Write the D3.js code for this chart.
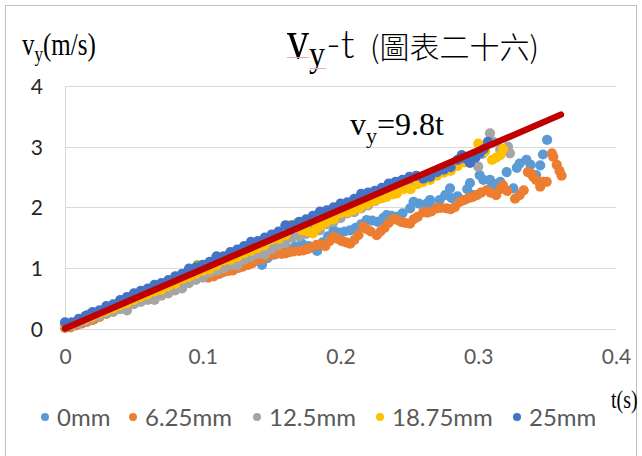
<!DOCTYPE html>
<html><head><meta charset="utf-8">
<script src="https://cdn.jsdelivr.net/npm/d3@7"></script>
<style>body{margin:0;background:#fff}svg{display:block}</style>
</head><body><svg id="c" width="642" height="456"></svg>
<script>
// ---- data ----
const seriesNames = ["0mm", "6.25mm", "12.5mm", "18.75mm", "25mm"];
const xTickValues = [0, 0.1, 0.2, 0.3, 0.4];
const yTickValues = [0, 1, 2, 3, 4];
const fitSlope = 9.8;
const fitRange = [0, 0.36];

const s0mm = [[0.000,0.05],[0.005,0.07],[0.010,0.10],[0.015,0.15],[0.020,0.18],[0.025,0.23],[0.030,0.28],[0.035,0.33],[0.040,0.36],[0.045,0.42],[0.050,0.46],[0.055,0.52],[0.060,0.56],[0.065,0.60],[0.070,0.66],[0.075,0.70],[0.080,0.74],[0.085,0.80],[0.090,0.84],[0.095,0.90],[0.100,0.93],[0.105,0.98],[0.110,1.04],[0.115,1.07],[0.120,1.11],[0.125,1.14],[0.130,1.18],[0.135,1.20],[0.140,1.12],[0.143,1.05],[0.147,1.16],[0.152,1.22],[0.157,1.26],[0.162,1.30],[0.167,1.35],[0.172,1.40],[0.177,1.36],[0.183,1.28],[0.187,1.42],[0.191,1.52],[0.195,1.62],[0.199,1.58],[0.203,1.60],[0.207,1.62],[0.211,1.66],[0.215,1.72],[0.219,1.79],[0.223,1.78],[0.227,1.76],[0.231,1.82],[0.2335,1.87],[0.237,1.86],[0.241,1.84],[0.245,1.90],[0.2505,1.98],[0.253,2.09],[0.257,2.06],[0.2626,2.06],[0.265,2.12],[0.267,2.00],[0.272,2.12],[0.276,2.20],[0.2795,2.31],[0.2807,2.15],[0.285,2.18],[0.289,2.12],[0.292,2.30],[0.294,2.40],[0.2964,2.20],[0.301,2.53],[0.3037,2.45],[0.3085,2.45],[0.3097,2.34],[0.313,2.38],[0.316,2.42],[0.3206,2.58],[0.3255,2.31],[0.328,2.65],[0.330,2.72],[0.335,2.78],[0.338,2.70],[0.342,2.53],[0.345,2.69],[0.347,2.87],[0.350,3.11]];

const s625mm = [[0.000,0.01],[0.004,0.02],[0.008,0.05],[0.012,0.08],[0.016,0.11],[0.020,0.14],[0.025,0.19],[0.030,0.24],[0.035,0.28],[0.040,0.33],[0.045,0.37],[0.050,0.42],[0.055,0.46],[0.060,0.50],[0.065,0.55],[0.070,0.59],[0.075,0.63],[0.080,0.68],[0.085,0.74],[0.090,0.78],[0.095,0.82],[0.100,0.85],[0.104,0.84],[0.108,0.86],[0.112,0.90],[0.115,0.93],[0.119,0.95],[0.122,0.96],[0.126,1.00],[0.129,1.02],[0.133,1.05],[0.136,1.08],[0.139,1.13],[0.143,1.15],[0.146,1.18],[0.150,1.22],[0.154,1.24],[0.157,1.23],[0.160,1.24],[0.163,1.26],[0.166,1.27],[0.170,1.28],[0.173,1.29],[0.176,1.31],[0.178,1.33],[0.1827,1.38],[0.186,1.38],[0.189,1.36],[0.192,1.44],[0.195,1.51],[0.198,1.48],[0.201,1.44],[0.204,1.42],[0.207,1.40],[0.210,1.46],[0.213,1.54],[0.2166,1.68],[0.219,1.64],[0.222,1.60],[0.2263,1.54],[0.229,1.60],[0.232,1.66],[0.235,1.74],[0.2384,1.81],[0.241,1.79],[0.244,1.76],[0.247,1.74],[0.2505,1.73],[0.253,1.80],[0.256,1.84],[0.2601,1.92],[0.263,1.91],[0.266,1.93],[0.2698,1.98],[0.273,1.99],[0.277,1.98],[0.280,1.97],[0.283,2.00],[0.2867,2.09],[0.290,2.12],[0.293,2.15],[0.296,2.17],[0.299,2.20],[0.302,2.24],[0.306,2.28],[0.309,2.24],[0.313,2.20],[0.316,2.30],[0.318,2.36],[0.321,2.27],[0.3267,2.14],[0.330,2.20],[0.333,2.28],[0.336,2.58],[0.338,2.56],[0.340,2.50],[0.342,2.45],[0.345,2.34],[0.347,2.42],[0.3497,2.42],[0.3535,2.89],[0.3545,2.83],[0.357,2.70],[0.359,2.60],[0.3605,2.52]];

const s125mm = [[0.000,0.03],[0.005,0.05],[0.010,0.09],[0.015,0.12],[0.020,0.17],[0.025,0.21],[0.030,0.25],[0.035,0.28],[0.040,0.32],[0.045,0.30],[0.050,0.40],[0.055,0.44],[0.060,0.47],[0.065,0.47],[0.070,0.54],[0.075,0.58],[0.080,0.63],[0.085,0.66],[0.090,0.75],[0.095,0.80],[0.100,0.84],[0.105,0.92],[0.110,0.95],[0.115,0.99],[0.120,1.04],[0.125,1.04],[0.130,1.13],[0.135,1.18],[0.140,1.23],[0.145,1.22],[0.150,1.31],[0.155,1.37],[0.160,1.41],[0.165,1.50],[0.170,1.52],[0.175,1.56],[0.180,1.62],[0.185,1.62],[0.190,1.72],[0.195,1.76],[0.200,1.82],[0.205,1.90],[0.210,1.92],[0.215,1.98],[0.220,2.03],[0.225,2.10],[0.230,2.15],[0.235,2.21],[0.240,2.26],[0.245,2.32],[0.250,2.38],[0.255,2.43],[0.260,2.48],[0.265,2.53],[0.270,2.58],[0.275,2.63],[0.280,2.68],[0.285,2.74],[0.290,2.78],[0.295,2.82],[0.300,2.67],[0.303,2.88],[0.305,3.00],[0.3085,3.22],[0.311,3.08],[0.316,2.95],[0.3216,3.00],[0.323,2.89]];

const s1875mm = [[0.000,0.06],[0.005,0.07],[0.010,0.12],[0.015,0.16],[0.020,0.20],[0.025,0.25],[0.030,0.29],[0.035,0.33],[0.040,0.38],[0.045,0.42],[0.050,0.47],[0.055,0.52],[0.060,0.56],[0.065,0.61],[0.070,0.64],[0.075,0.70],[0.080,0.74],[0.085,0.82],[0.090,0.85],[0.095,0.90],[0.100,0.95],[0.105,0.98],[0.110,1.04],[0.115,1.12],[0.120,1.13],[0.125,1.18],[0.130,1.24],[0.135,1.28],[0.140,1.33],[0.145,1.38],[0.150,1.47],[0.155,1.48],[0.160,1.54],[0.163,1.70],[0.168,1.73],[0.172,1.62],[0.176,1.60],[0.180,1.57],[0.1827,1.65],[0.186,1.70],[0.190,1.76],[0.195,1.80],[0.200,1.90],[0.205,1.92],[0.209,1.95],[0.214,1.99],[0.219,2.05],[0.224,2.10],[0.229,2.14],[0.2335,2.17],[0.238,2.21],[0.241,2.23],[0.246,2.30],[0.251,2.30],[0.256,2.38],[0.260,2.42],[0.265,2.45],[0.270,2.52],[0.275,2.57],[0.280,2.60],[0.285,2.68],[0.290,2.74],[0.295,2.80],[0.300,3.05],[0.305,2.92],[0.310,2.78],[0.313,2.82],[0.316,2.86],[0.318,2.96]];

const s25mm = [[0.000,0.10],[0.005,0.10],[0.010,0.16],[0.015,0.21],[0.020,0.27],[0.025,0.30],[0.030,0.37],[0.035,0.40],[0.040,0.47],[0.045,0.52],[0.050,0.58],[0.055,0.62],[0.060,0.66],[0.065,0.72],[0.070,0.75],[0.075,0.80],[0.080,0.86],[0.085,0.90],[0.090,0.99],[0.095,1.00],[0.100,1.05],[0.105,1.10],[0.110,1.19],[0.115,1.19],[0.120,1.26],[0.125,1.30],[0.130,1.36],[0.135,1.43],[0.140,1.44],[0.145,1.50],[0.150,1.55],[0.155,1.60],[0.160,1.70],[0.165,1.70],[0.170,1.76],[0.175,1.80],[0.180,1.86],[0.185,1.93],[0.190,1.95],[0.195,2.00],[0.200,2.06],[0.205,2.08],[0.210,2.14],[0.215,2.22],[0.220,2.24],[0.225,2.27],[0.230,2.32],[0.235,2.39],[0.240,2.42],[0.245,2.45],[0.250,2.50],[0.255,2.52],[0.260,2.47],[0.265,2.50],[0.270,2.58],[0.275,2.62],[0.280,2.66],[0.285,2.78],[0.288,2.86],[0.291,2.80],[0.294,2.73],[0.298,2.82],[0.301,2.89],[0.304,2.96],[0.307,3.08]];

const sExtra = [[0.017,0.23],[0.021,0.15],[0.096,1.04],[0.100,0.97],[0.103,1.00]];

const seriesData = [s0mm, s625mm, s125mm, s1875mm, s25mm];
const seriesColors = ["#5B9BD5", "#ED7D31", "#A5A5A5", "#FFC000", "#4472C4"];
const extraColor = "#70AD47";

// ---- drawing ----
const svg = d3.select("#c");
svg.append("rect").attr("width", 642).attr("height", 456).attr("fill", "#fff");
svg.append("rect").attr("x", 5.5).attr("y", 5.5).attr("width", 631).attr("height", 480)
  .attr("fill", "none").attr("stroke", "#BFBFBF");

const x = d3.scaleLinear().domain([0, 0.4]).range([65, 616]);
const y = d3.scaleLinear().domain([0, 4]).range([328.5, 86]);

// gridlines
svg.append("g").selectAll("line").data(yTickValues.filter(d => d > 0)).join("line")
  .attr("x1", x(0)).attr("x2", x(0.4)).attr("y1", d => Math.round(y(d)) + 0.5).attr("y2", d => Math.round(y(d)) + 0.5)
  .attr("stroke", "#D9D9D9").attr("stroke-width", 1);
svg.append("line").attr("x1", x(0)).attr("x2", x(0.4)).attr("y1", Math.round(y(0)) + 0.5).attr("y2", Math.round(y(0)) + 0.5)
  .attr("stroke", "#D9D9D9");
svg.append("line").attr("x1", Math.round(x(0)) + 0.5).attr("x2", Math.round(x(0)) + 0.5).attr("y1", y(4)).attr("y2", y(0))
  .attr("stroke", "#D9D9D9");

// tick labels via axes
const xAxis = d3.axisBottom(x).tickValues(xTickValues).tickSize(0).tickPadding(0).tickFormat(d3.format("~g"));
const gx = svg.append("g").attr("transform", `translate(0,${y(0) + 35})`).call(xAxis);
gx.select(".domain").remove();
gx.selectAll("text").attr("font-family", "Lato, 'Open Sans', sans-serif").attr("font-size", 21)
  .attr("fill", "#595959").attr("dy", 0);

const yAxis = d3.axisLeft(y).tickValues(yTickValues).tickSize(0).tickPadding(0).tickFormat(d3.format("d"));
const gy = svg.append("g").attr("transform", `translate(43,0)`).call(yAxis);
gy.select(".domain").remove();
gy.selectAll("text").attr("font-family", "Lato, 'Open Sans', sans-serif").attr("font-size", 21)
  .attr("fill", "#262626").attr("dy", "0.36em");

// points
const R = 5.1;
const plot = svg.append("g");
plot.append("g").selectAll("circle").data(sExtra).join("circle")
  .attr("cx", d => x(d[0])).attr("cy", d => y(d[1])).attr("r", R).attr("fill", extraColor);
seriesData.forEach((s, i) => {
  plot.append("g").selectAll("circle").data(s).join("circle")
    .attr("cx", d => x(d[0])).attr("cy", d => y(d[1])).attr("r", R).attr("fill", seriesColors[i]);
});

// fit line
const line = d3.line().x(d => x(d)).y(d => y(fitSlope * d));
svg.append("path").datum(fitRange).attr("d", line).attr("stroke", "#C00000")
  .attr("stroke-width", 6.5).attr("stroke-linecap", "round").attr("fill", "none");

// annotation vy=9.8t
const serif = "'Liberation Serif', 'Times New Roman', serif";
const ann = svg.append("text").attr("x", 350).attr("y", 135).attr("font-family", serif).attr("font-size", 32).attr("fill", "#000");
ann.append("tspan").text("v");
ann.append("tspan").attr("font-size", 22).attr("dy", 8).text("y");
ann.append("tspan").attr("dy", -8).text("=9.8t");

// y axis label
const yl = svg.append("g").attr("transform", "translate(22,55) scale(1,1.25)");
const ylt = yl.append("text").attr("font-family", serif).attr("font-size", 25).attr("fill", "#000");
ylt.append("tspan").text("v");
ylt.append("tspan").attr("font-size", 17).attr("dy", 5).text("y");
ylt.append("tspan").attr("dy", -5).text("(m/s)");

// x axis label
svg.append("g").attr("transform", "translate(611,408) scale(1,1.25)")
  .append("text").attr("font-family", serif).attr("font-size", 20).attr("fill", "#000").text("t(s)");

// title
const tg = svg.append("g");
tg.append("g").attr("transform", "translate(287,58) scale(1,1.25)")
  .append("text").attr("font-family", serif).attr("font-size", 44).attr("fill", "#000").text("v");
tg.append("g").attr("transform", "translate(309,66) scale(1,1.1)")
  .append("text").attr("font-family", serif).attr("font-size", 32).attr("fill", "#000").text("y");
tg.append("text").attr("x", 326).attr("y", 58).attr("font-family", "Lato, sans-serif").attr("font-weight", 300)
  .attr("font-size", 40).attr("fill", "#000").text("-t");
tg.append("text").attr("x", 370).attr("y", 58).attr("font-family", "'Noto Sans CJK TC', sans-serif").attr("font-weight", 300)
  .attr("font-size", 30).attr("fill", "#000").text("(圖表二十六)");
tg.append("line").attr("x1", 287).attr("x2", 309).attr("y1", 57.5).attr("y2", 57.5).attr("stroke", "#F4A6A6");
tg.append("line").attr("x1", 310).attr("x2", 326).attr("y1", 68.5).attr("y2", 68.5).attr("stroke", "#F4A6A6");

// legend
const legendX = [45, 133, 257, 380, 517];
const lg = svg.append("g");
seriesNames.forEach((n, i) => {
  lg.append("circle").attr("cx", legendX[i]).attr("cy", 417).attr("r", 4).attr("fill", seriesColors[i]);
  lg.append("text").attr("x", legendX[i] + 12).attr("y", 417).attr("dy", "0.36em")
    .attr("font-family", "Lato, 'Open Sans', sans-serif").attr("font-size", 24).attr("fill", "#595959").text(n);
});
</script></body></html>
